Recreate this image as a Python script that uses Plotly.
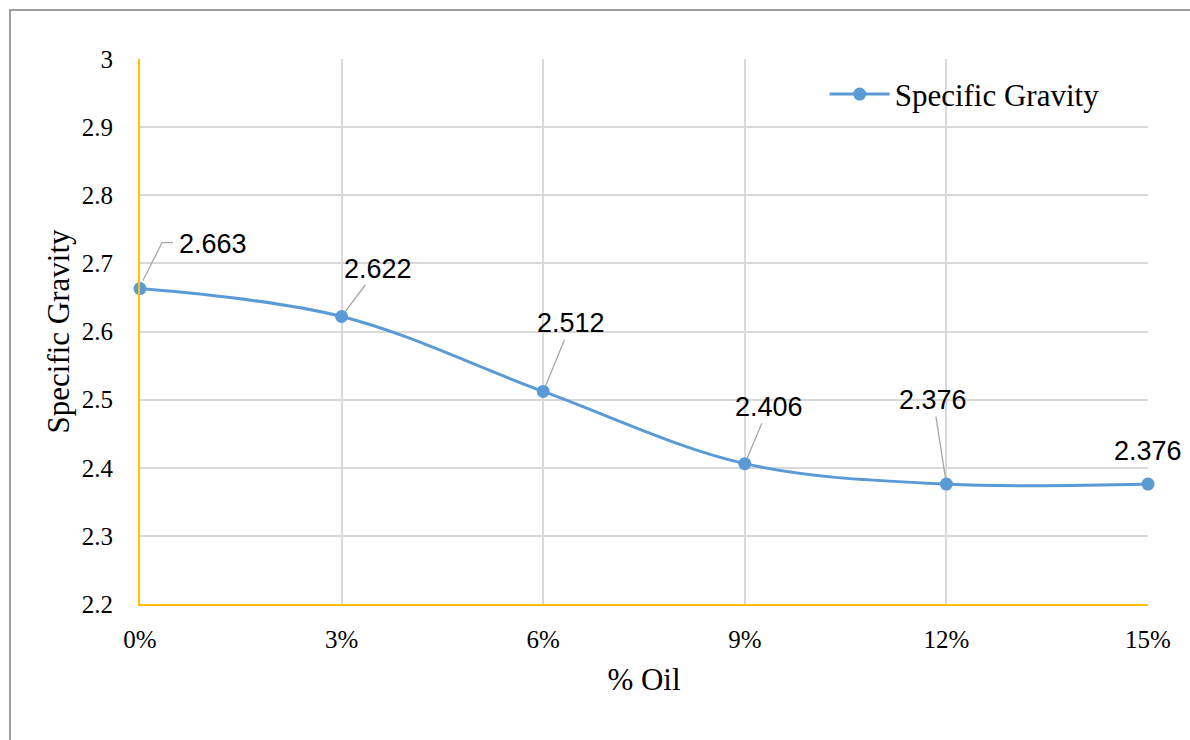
import plotly.graph_objects as go

# Specific gravity against oil content
oil_pct = [0, 3, 6, 9, 12, 15]
specific_gravity = [2.663, 2.622, 2.512, 2.406, 2.376, 2.376]
x_tick_vals = [0, 3, 6, 9, 12, 15]
x_tick_text = ["0%", "3%", "6%", "9%", "12%", "15%"]
y_tick_vals = [2.2, 2.3, 2.4, 2.5, 2.6, 2.7, 2.8, 2.9, 3.0]
y_tick_text = ["2.2", "2.3", "2.4", "2.5", "2.6", "2.7", "2.8", "2.9", "3"]

# pixel offsets of each value label from its point; leader style per label
label_offsets = [(73, -45), (36, -48), (28, -68), (24, -57), (-13, -84), (0, -33)]
leader_kind = ["elbow", "straight", "straight", "straight", "straight", "none"]

SERIF = "Liberation Serif"
LABEL_FONT = "Liberation Sans"
BLUE = "#5B9BD5"
AXIS_GOLD = "#FFC000"
GRID = "#D9D9D9"
LEADER = "#A6A6A6"

fig = go.Figure()
fig.add_trace(go.Scatter(
    x=oil_pct,
    y=specific_gravity,
    mode="lines+markers",
    name="Specific Gravity",
    line=dict(color=BLUE, width=3, shape="spline", smoothing=1.0),
    marker=dict(color=BLUE, size=13),
    cliponaxis=False,
))

label_font = dict(family=LABEL_FONT, size=27, color="#000000")
annotations = []
shapes = [
    # outer chart frame
    dict(type="rect", xref="paper", yref="paper",
         x0=-0.129, x1=1.1, y0=-0.3, y1=1.09,
         line=dict(color="#A0A0A0", width=2), fillcolor="rgba(0,0,0,0)", layer="below"),
]
for xv, yv, (dx, dy), kind in zip(oil_pct, specific_gravity, label_offsets, leader_kind):
    txt = f"{yv:.3f}"
    if kind == "straight":
        annotations.append(dict(
            x=xv, y=yv, xref="x", yref="y", text=txt, showarrow=True,
            ax=dx, ay=dy, arrowhead=0, arrowwidth=1.3,
            arrowcolor=LEADER, standoff=6, font=label_font,
        ))
    else:
        annotations.append(dict(
            x=xv, y=yv, xref="x", yref="y", text=txt, showarrow=False,
            xshift=dx, yshift=-dy, font=label_font,
        ))
        if kind == "elbow":
            # bent leader line drawn in pixel units relative to the point
            shapes.append(dict(
                type="path", xref="x", yref="y",
                xsizemode="pixel", ysizemode="pixel",
                xanchor=xv, yanchor=yv,
                path="M 3 8 L 22 46 L 33 46",
                line=dict(color=LEADER, width=1.3),
            ))

fig.update_layout(
    width=1190,
    height=740,
    margin=dict(l=140, r=42, t=59, b=136),
    paper_bgcolor="#FFFFFF",
    plot_bgcolor="#FFFFFF",
    annotations=annotations,
    shapes=shapes,
    showlegend=True,
    legend=dict(
        x=0.957, y=0.935, xanchor="right", yanchor="middle",
        font=dict(family=SERIF, size=31, color="#000000"),
        bgcolor="rgba(255,255,255,0)",
        itemwidth=60,
    ),
    xaxis=dict(
        range=[0, 15],
        tickvals=x_tick_vals,
        ticktext=x_tick_text,
        showgrid=True,
        gridcolor=GRID,
        gridwidth=1.5,
        showline=True,
        linecolor=AXIS_GOLD,
        linewidth=2,
        zeroline=False,
        ticks="",
        ticklabelstandoff=12,
        tickfont=dict(family=SERIF, size=25, color="#000000"),
        title=dict(text="% Oil", font=dict(family=SERIF, size=31, color="#000000"), standoff=16),
    ),
    yaxis=dict(
        range=[2.2, 3.0],
        tickvals=y_tick_vals,
        ticktext=y_tick_text,
        showgrid=True,
        gridcolor=GRID,
        gridwidth=1.5,
        showline=True,
        linecolor=AXIS_GOLD,
        linewidth=2,
        zeroline=False,
        ticks="",
        ticklabelstandoff=20,
        tickfont=dict(family=SERIF, size=25, color="#000000"),
        title=dict(text="Specific Gravity", font=dict(family=SERIF, size=31, color="#000000"), standoff=3),
    ),
)

fig.write_html("out.html")
